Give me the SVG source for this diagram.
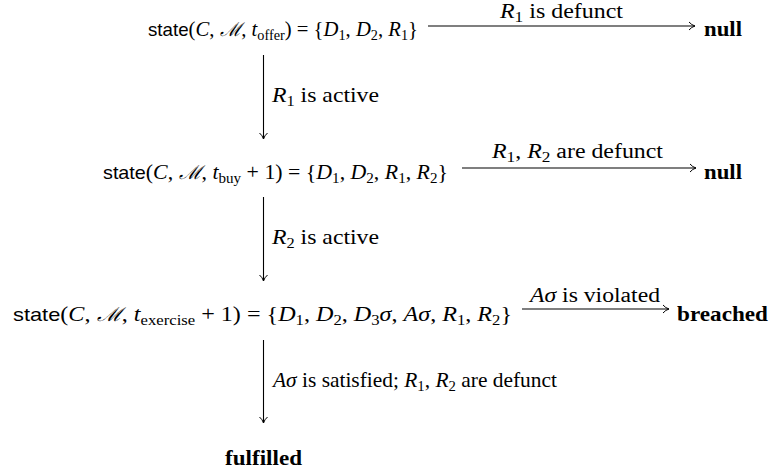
<svg xmlns="http://www.w3.org/2000/svg" width="773" height="476" viewBox="0 0 773 476">
<defs>
<style>
text{font-family:"Liberation Serif","DejaVu Serif",serif;font-size:21px;fill:#000;}
.sf{font-family:"Liberation Sans","DejaVu Sans",sans-serif;font-size:19px;}
.i{font-style:italic;}
.s{font-size:14.5px;}
.b{font-weight:bold;}
.cal{font-family:"DejaVu Serif",serif;font-style:italic;font-size:19px;}
.lbl{font-size:20px;}
.arr{stroke:#000;stroke-width:1.1;fill:none;marker-end:url(#ah);}
</style>
<marker id="ah" viewBox="0 0 8 10" refX="7.5" refY="5" markerWidth="8" markerHeight="10" markerUnits="userSpaceOnUse" orient="auto">
<path d="M1.5,1 Q4,4 7.5,5 Q4,6 1.5,9" fill="none" stroke="#000" stroke-width="1"/>
</marker>
</defs>
<g id="connectors">
<line class="arr" x1="428" y1="26" x2="695" y2="26"/>
<line class="arr" x1="462" y1="168" x2="696" y2="168"/>
<line class="arr" x1="522" y1="309" x2="669" y2="309"/>
<line class="arr" x1="263.5" y1="55" x2="263.5" y2="139"/>
<line class="arr" x1="263.5" y1="197" x2="263.5" y2="281"/>
<line class="arr" x1="263.5" y1="340" x2="263.5" y2="423"/>
<text class="lbl" x="500" y="18" textLength="123" lengthAdjust="spacingAndGlyphs"><tspan class="i">R</tspan><tspan class="s" dy="4">1</tspan><tspan dy="-4"> is defunct</tspan></text>
<text class="lbl" x="492" y="158" textLength="171" lengthAdjust="spacingAndGlyphs"><tspan class="i">R</tspan><tspan class="s" dy="4">1</tspan><tspan dy="-4">, </tspan><tspan class="i">R</tspan><tspan class="s" dy="4">2</tspan><tspan dy="-4"> are defunct</tspan></text>
<text class="lbl" x="530" y="302" textLength="130" lengthAdjust="spacingAndGlyphs"><tspan class="i">Aσ</tspan> is violated</text>
<text x="272" y="102" textLength="107" lengthAdjust="spacingAndGlyphs"><tspan class="i">R</tspan><tspan class="s" dy="4">1</tspan><tspan dy="-4"> is active</tspan></text>
<text x="272" y="244" textLength="107" lengthAdjust="spacingAndGlyphs"><tspan class="i">R</tspan><tspan class="s" dy="4">2</tspan><tspan dy="-4"> is active</tspan></text>
<text x="273" y="387" textLength="284" lengthAdjust="spacingAndGlyphs"><tspan class="i">Aσ</tspan> is satisfied; <tspan class="i">R</tspan><tspan class="s" dy="4">1</tspan><tspan dy="-4">, </tspan><tspan class="i">R</tspan><tspan class="s" dy="4">2</tspan><tspan dy="-4"> are defunct</tspan></text>
</g>
<g id="s1">
<text x="148" y="36" textLength="270" lengthAdjust="spacingAndGlyphs"><tspan class="sf">state</tspan>(<tspan class="i">C</tspan>, <tspan class="cal">ℳ</tspan>, <tspan class="i">t</tspan><tspan class="s" dy="4">offer</tspan><tspan dy="-4">) = {</tspan><tspan class="i">D</tspan><tspan class="s" dy="4">1</tspan><tspan dy="-4">, </tspan><tspan class="i">D</tspan><tspan class="s" dy="4">2</tspan><tspan dy="-4">, </tspan><tspan class="i">R</tspan><tspan class="s" dy="4">1</tspan><tspan dy="-4">}</tspan></text>
</g>
<g id="null1"><text x="704" y="36" class="b" textLength="38" lengthAdjust="spacingAndGlyphs">null</text></g>
<g id="s2">
<text x="103" y="179" textLength="345" lengthAdjust="spacingAndGlyphs"><tspan class="sf">state</tspan>(<tspan class="i">C</tspan>, <tspan class="cal">ℳ</tspan>, <tspan class="i">t</tspan><tspan class="s" dy="4">buy</tspan><tspan dy="-4"> + 1) = {</tspan><tspan class="i">D</tspan><tspan class="s" dy="4">1</tspan><tspan dy="-4">, </tspan><tspan class="i">D</tspan><tspan class="s" dy="4">2</tspan><tspan dy="-4">, </tspan><tspan class="i">R</tspan><tspan class="s" dy="4">1</tspan><tspan dy="-4">, </tspan><tspan class="i">R</tspan><tspan class="s" dy="4">2</tspan><tspan dy="-4">}</tspan></text>
</g>
<g id="null2"><text x="704" y="179" class="b" textLength="38" lengthAdjust="spacingAndGlyphs">null</text></g>
<g id="s3">
<text x="13" y="321" textLength="499" lengthAdjust="spacingAndGlyphs"><tspan class="sf">state</tspan>(<tspan class="i">C</tspan>, <tspan class="cal">ℳ</tspan>, <tspan class="i">t</tspan><tspan class="s" dy="4">exercise</tspan><tspan dy="-4"> + 1) = {</tspan><tspan class="i">D</tspan><tspan class="s" dy="4">1</tspan><tspan dy="-4">, </tspan><tspan class="i">D</tspan><tspan class="s" dy="4">2</tspan><tspan dy="-4">, </tspan><tspan class="i">D</tspan><tspan class="s" dy="4">3</tspan><tspan class="i" dy="-4">σ</tspan>, <tspan class="i">Aσ</tspan>, <tspan class="i">R</tspan><tspan class="s" dy="4">1</tspan><tspan dy="-4">, </tspan><tspan class="i">R</tspan><tspan class="s" dy="4">2</tspan><tspan dy="-4">}</tspan></text>
</g>
<g id="breached"><text x="677" y="321" class="b" textLength="91" lengthAdjust="spacingAndGlyphs">breached</text></g>
<g id="fulfilled"><text x="225" y="465" class="b" textLength="77" lengthAdjust="spacingAndGlyphs">fulfilled</text></g>
</svg>
